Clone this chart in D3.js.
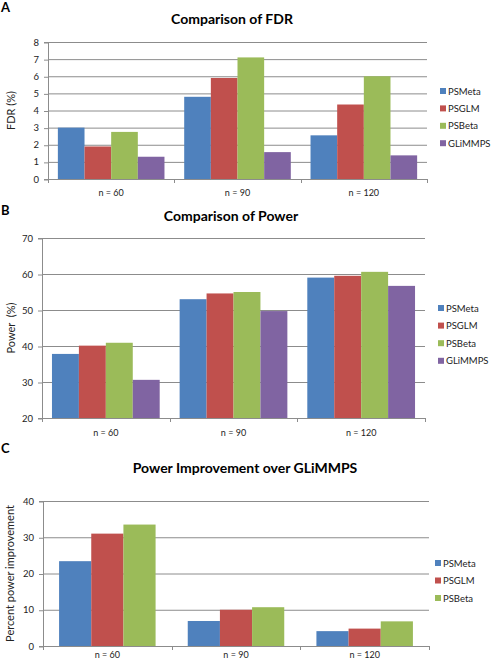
<!DOCTYPE html>
<html><head><meta charset="utf-8">
<script src="https://cdn.jsdelivr.net/npm/d3@7"></script>
<style>body{margin:0;background:#fff}svg{display:block}text{font-family:Lato,"Open Sans",sans-serif}</style>
</head><body>
<svg id="c" width="493" height="661"></svg>
<script>
const categories = ["n = 60", "n = 90", "n = 120"];
const seriesNames4 = ["PSMeta", "PSGLM", "PSBeta", "GLiMMPS"];
const seriesNames3 = ["PSMeta", "PSGLM", "PSBeta"];
const fdrPSMeta = [3.0, 4.8, 2.55];
const fdrPSGLM = [1.9, 5.9, 4.35];
const fdrPSBeta = [2.75, 7.1, 6.0];
const fdrGLiMMPS = [1.3, 1.57, 1.38];
const powPSMeta = [37.8, 53.0, 59.0];
const powPSGLM = [40.1, 54.6, 59.5];
const powPSBeta = [40.9, 55.0, 60.6];
const powGLiMMPS = [30.6, 49.7, 56.7];
const impPSMeta = [23.4, 6.9, 4.1];
const impPSGLM = [31.0, 10.0, 4.8];
const impPSBeta = [33.5, 10.7, 6.8];
const fdrTicks = [0,1,2,3,4,5,6,7,8];
const powTicks = [20,30,40,50,60,70];
const impTicks = [0,10,20,30,40];
const colors = ["#4F81BD", "#C0504D", "#9BBB59", "#8064A2"];

const svg = d3.select("#c");

function panel(o) {
  const g = svg.append("g");
  g.append("text").attr("x", o.letterX).attr("y", o.letterY).attr("font-size", 13).attr("font-weight", "bold").text(o.letter);
  g.append("text").attr("x", o.titleX).attr("y", o.titleY).attr("text-anchor", "middle").attr("font-size", 14).attr("font-weight", "bold").text(o.title);
  const x = d3.scaleBand().domain(categories).range([o.x0, o.x1]);
  const sub = d3.scaleBand().domain(o.names).range([0, x.bandwidth()]).paddingOuter(o.outer);
  const y = d3.scaleLinear().domain([o.ticks[0], o.ticks[o.ticks.length-1]]).range([o.yb, o.yt]);
  g.append("g").selectAll("line").data(o.ticks.slice(1)).join("line")
    .attr("x1", o.x0).attr("x2", o.x1).attr("y1", d => y(d)+0.5).attr("y2", d => y(d)+0.5)
    .attr("stroke", "#8c8c8c").attr("stroke-width", 1);
  o.series.forEach((vals, si) => {
    g.append("g").selectAll("rect").data(vals).join("rect")
      .attr("x", (d, i) => x(categories[i]) + sub(o.names[si]))
      .attr("width", sub.bandwidth())
      .attr("y", d => y(d)).attr("height", d => y(o.ticks[0]) - y(d))
      .attr("fill", colors[si]);
  });
  const ya = g.append("g").attr("transform", `translate(${o.x0},0)`)
    .call(d3.axisLeft(y).tickValues(o.ticks).tickSize(4).tickPadding(5).tickFormat(d3.format("d")));
  ya.select(".domain").attr("stroke", "#8c8c8c").attr("d", `M-4,${o.yt+0.5}H0.5V${o.yb+0.5}H-4`);
  ya.selectAll(".tick line").attr("stroke", "#8c8c8c").attr("transform", "translate(0,0.5)");
  ya.selectAll("text").attr("font-size", 9.5).attr("fill", "#222");
  g.append("line").attr("x1", o.x0).attr("x2", o.x1).attr("y1", o.yb+0.5).attr("y2", o.yb+0.5).attr("stroke", "#8c8c8c");
  const bounds = [o.x0].concat(categories.map(c => x(c) + x.bandwidth()));
  g.append("g").selectAll("line").data(bounds).join("line")
    .attr("x1", d => Math.round(d)+0.5).attr("x2", d => Math.round(d)+0.5).attr("y1", o.yb).attr("y2", o.yb+4)
    .attr("stroke", "#8c8c8c");
  g.append("g").selectAll("text").data(categories).join("text")
    .attr("x", d => x(d) + x.bandwidth()/2).attr("y", o.catY).attr("text-anchor", "middle")
    .attr("font-size", 9).attr("fill", "#222").text(d => d);
  g.append("text").attr("transform", `translate(${o.ylabX},${(o.yt+o.yb)/2}) rotate(-90)`)
    .attr("text-anchor", "middle").attr("font-size", 11).attr("fill", "#222").attr("xml:space", "preserve").text(o.ylab);
  o.names.forEach((n, i) => {
    g.append("rect").attr("x", o.legX).attr("y", o.legY + i*o.legStep - 3).attr("width", 6).attr("height", 6).attr("fill", colors[i]);
    g.append("text").attr("x", o.legX + 8).attr("y", o.legY + i*o.legStep + 3.5).attr("font-size", 9.5).attr("fill", "#222").text(n);
  });
}

panel({letter:"A", letterX:1, letterY:12, title:"Comparison of FDR", titleX:232, titleY:24,
  x0:48, x1:427, yt:42, yb:179, ticks:fdrTicks, names:seriesNames4,
  series:[fdrPSMeta, fdrPSGLM, fdrPSBeta, fdrGLiMMPS], outer:0.37, catY:196,
  ylab:"FDR (%)", ylabX:15, legX:440, legY:91, legStep:17.4});

panel({letter:"B", letterX:1, letterY:215, title:"Comparison of Power", titleX:231, titleY:221,
  x0:42, x1:425, yt:238, yb:418, ticks:powTicks, names:seriesNames4,
  series:[powPSMeta, powPSGLM, powPSBeta, powGLiMMPS], outer:0.37, catY:436,
  ylab:"Power  (%)", ylabX:15, legX:438, legY:308, legStep:17.6});

panel({letter:"C", letterX:1, letterY:453, title:"Power Improvement over GLiMMPS", titleX:245, titleY:473,
  x0:43, x1:429, yt:501, yb:646, ticks:impTicks, names:seriesNames3,
  series:[impPSMeta, impPSGLM, impPSBeta], outer:0.5, catY:658,
  ylab:"Percent power improvement", ylabX:14, legX:435, legY:563, legStep:17.5});
</script>
</body></html>
